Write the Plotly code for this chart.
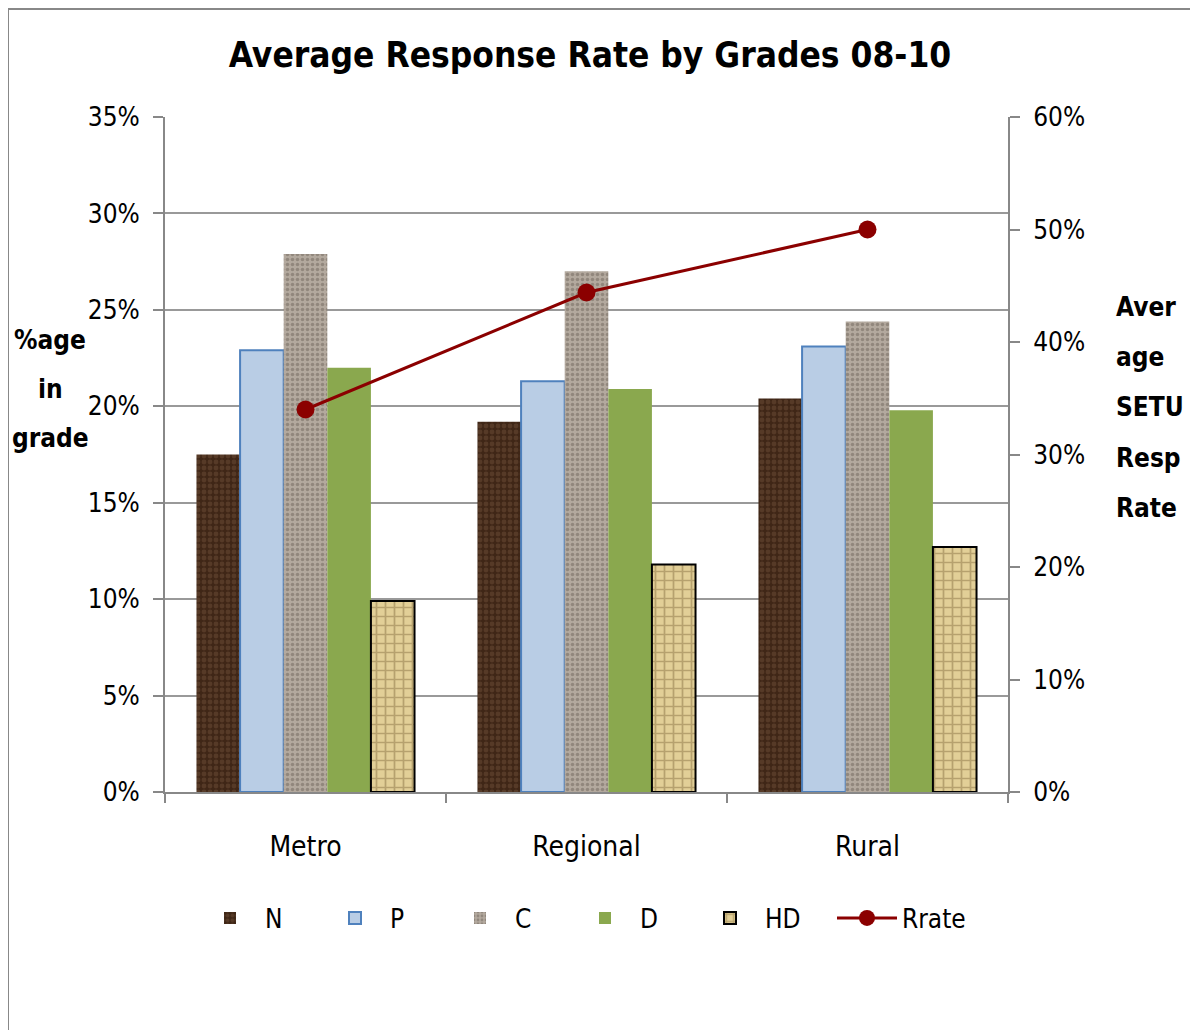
import plotly.graph_objects as go

categories = ["Metro", "Regional", "Rural"]
series_names = ["N", "P", "C", "D", "HD"]
N = [0.175, 0.192, 0.204]
P = [0.229, 0.213, 0.231]
C = [0.279, 0.270, 0.244]
D = [0.220, 0.209, 0.198]
HD = [0.099, 0.118, 0.127]
rrate = [0.34, 0.444, 0.50]
left_title_lines = ["%age", "in", "grade"]
right_title_lines = ["Aver", "age", "SETU", "Resp", "Rate"]

FONT = "DejaVu Sans Condensed, Lato, sans-serif"

# page has an 8px body margin: figure coords = page coords - 8
W, H = 1190, 1022
L, T, R, B = 157, 109, 190, 238
PW, PH = W - L - R, H - T - B


def px(xp):
    return (xp - 8 - L) / PW


def py(yp):
    return (H - B - (yp - 8)) / PH


fig = go.Figure()

styles = {
    "N": dict(color="#4a2e1c", line=dict(width=0),
              pattern=dict(shape=".", bgcolor="#3f2616", fgcolor="#6e4e38", size=6, solidity=0.5, fillmode="overlay")),
    "P": dict(color="#b9cde5", line=dict(color="#4f81bd", width=2)),
    "C": dict(color="#a89c90", line=dict(width=0),
              pattern=dict(shape=".", bgcolor="#b3a99e", fgcolor="#6f655c", size=5, solidity=0.4, fillmode="overlay")),
    "D": dict(color="#8aa84e", line=dict(width=0)),
    "HD": dict(color="#d8c38a", line=dict(color="#000000", width=2),
               pattern=dict(shape="+", bgcolor="#e2cf97", fgcolor="#8a7445", size=9, solidity=0.35, fillmode="overlay")),
}

for name, vals in zip(series_names, [N, P, C, D, HD]):
    fig.add_trace(go.Bar(x=categories, y=vals, name=name, marker=styles[name], legend="legend"))

fig.add_trace(go.Scatter(x=categories, y=rrate, name="Rrate", yaxis="y2", mode="lines+markers",
                         line=dict(color="#8b0000", width=3),
                         marker=dict(color="#8b0000", size=18), legend="legend2"))

fig.update_layout(
    width=W, height=H,
    margin=dict(l=L, r=R, t=T, b=B),
    paper_bgcolor="white", plot_bgcolor="white",
    font=dict(family=FONT, size=26, color="black"),
    title=dict(text="<b>Average Response Rate by Grades 08-10</b>", x=(590 - 8) / W,
               xref="container", xanchor="center",
               y=1 - (55 - 8) / H, yref="container", yanchor="middle", font=dict(size=35, family=FONT)),
    barmode="group", bargap=0.224, bargroupgap=0,
    xaxis=dict(showline=True, linecolor="#888888", linewidth=2, ticks="outside", tickson="boundaries",
               ticklen=9, tickcolor="#888888", tickwidth=2, tickfont=dict(size=28), showgrid=False,
               ticklabelstandoff=28),
    yaxis=dict(range=[0, 0.35], dtick=0.05, tickformat=".0%", showline=True, linecolor="#888888",
               linewidth=2, ticks="outside", ticklen=10, tickcolor="#888888", tickwidth=2,
               showgrid=True, gridcolor="#999999", gridwidth=2, zeroline=False, ticklabelstandoff=8),
    yaxis2=dict(range=[0, 0.6], dtick=0.1, tickformat=".0%", overlaying="y", side="right",
                showline=True, linecolor="#888888", linewidth=2, ticks="outside", ticklen=10,
                tickcolor="#888888", tickwidth=2, showgrid=False, zeroline=False, ticklabelstandoff=8),
    legend=dict(orientation="h", x=px(195), xanchor="left", y=py(918), yanchor="middle",
                font=dict(size=26), itemwidth=60, traceorder="normal",
                entrywidth=50, entrywidthmode="pixels"),
    legend2=dict(orientation="h", x=px(832), xanchor="left", y=py(918), yanchor="middle",
                 font=dict(size=26), itemwidth=60),
    showlegend=True,
)

for i, t in enumerate(left_title_lines):
    fig.add_annotation(text="<b>" + t + "</b>", xref="paper", yref="paper",
                       x=px(50), y=py(340 + 49 * i), xanchor="center", yanchor="middle",
                       showarrow=False, font=dict(size=26))
for i, t in enumerate(right_title_lines):
    fig.add_annotation(text="<b>" + t + "</b>", xref="paper", yref="paper",
                       x=px(1114), y=py(307 + 50.2 * i), xanchor="left", yanchor="middle",
                       showarrow=False, font=dict(size=26))

fig.add_shape(type="rect", xref="paper", yref="paper",
              x0=px(8), x1=px(1230), y0=py(1050), y1=py(9),
              line=dict(color="#888888", width=2), fillcolor="rgba(0,0,0,0)", layer="below")

fig.write_html("out.html")
